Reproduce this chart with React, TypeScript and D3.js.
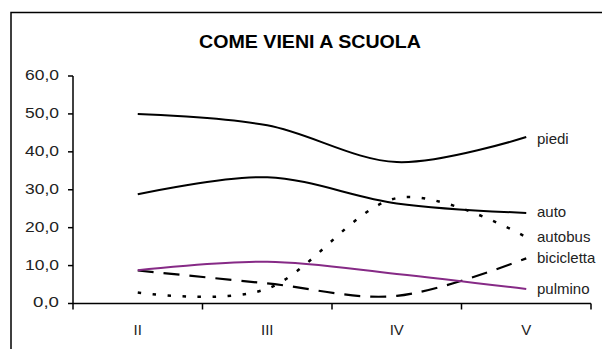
import React from "react";
import * as d3 from "d3";

const categories = ["II", "III", "IV", "V"];
const yTicks = [0, 10, 20, 30, 40, 50, 60];
const piedi = [50.0, 47.0, 37.3, 43.9];
const auto = [28.8, 33.3, 26.4, 23.9];
const autobus = [2.9, 3.9, 27.8, 17.5];
const bicicletta = [8.7, 5.3, 2.0, 11.9];
const pulmino = [8.8, 11.0, 7.8, 3.8];
const seriesNames = ["piedi", "auto", "autobus", "bicicletta", "pulmino"];
const title = "COME VIENI A SCUOLA";

const seriesData = [piedi, auto, autobus, bicicletta, pulmino];
const styles = [
  { color: "#000", width: 2, dash: null as string | null, labelY: 140 },
  { color: "#000", width: 2, dash: null, labelY: 213 },
  { color: "#000", width: 2.5, dash: "3.5,11.5", labelY: 238 },
  { color: "#000", width: 2.2, dash: "16,10", labelY: 259 },
  { color: "#862a86", width: 2, dash: null, labelY: 290 },
];

export default function App() {
  const W = 602, H = 349;
  const left = 73, right = 591, top = 76, bottom = 303.5;
  const x = d3.scaleBand<string>().domain(categories).range([left, right]);
  const y = d3.scaleLinear().domain([0, 60]).range([bottom, top]);
  const cx = (c: string) => (x(c) as number) + x.bandwidth() / 2;
  const line = d3
    .line<number>()
    .x((_, i) => cx(categories[i]))
    .y((d) => y(d))
    .curve(d3.curveCardinal.tension(0));
  const xTickPos = [...categories.map((c) => x(c) as number), right];
  const font = "'Liberation Sans', Arial, sans-serif";

  return (
    <svg
      width={W}
      height={H}
      style={{ position: "absolute", left: 0, top: 0, background: "#fff" }}
      fontFamily={font}
    >
      <rect x={0} y={0} width={W} height={H} fill="#fff" />
      <rect x={11} y={12.5} width={W} height={H} fill="none" stroke="#000" strokeWidth={1.5} />
      <text x={310} y={43} textAnchor="middle" dominantBaseline="middle" fontSize={19} fontWeight="bold" textLength={222} lengthAdjust="spacingAndGlyphs">
        {title}
      </text>
      {/* y axis */}
      <line x1={left} x2={left} y1={top} y2={bottom} stroke="#000" strokeWidth={1.5} />
      {yTicks.map((t) => (
        <g key={t}>
          <line x1={left - 5} x2={left} y1={y(t)} y2={y(t)} stroke="#000" strokeWidth={1.5} />
          <text x={59} y={y(t)} textAnchor="end" dominantBaseline="middle" fontSize={15} textLength={t >= 10 ? 34 : 26} lengthAdjust="spacingAndGlyphs" fill="#222">
            {d3.format(".1f")(t).replace(".", ",")}
          </text>
        </g>
      ))}
      {/* x axis */}
      <line x1={left} x2={right} y1={bottom} y2={bottom} stroke="#000" strokeWidth={1.5} />
      {xTickPos.map((p, i) => (
        <line key={i} x1={p} x2={p} y1={bottom} y2={bottom + 6} stroke="#000" strokeWidth={1.5} />
      ))}
      {categories.map((c) => (
        <text key={c} x={cx(c)} y={331} textAnchor="middle" dominantBaseline="middle" fontSize={15} fill="#222">
          {c}
        </text>
      ))}
      {seriesData.map((s, i) => (
        <path
          key={i}
          d={line(s) as string}
          fill="none"
          stroke={styles[i].color}
          strokeWidth={styles[i].width}
          strokeDasharray={styles[i].dash ?? undefined}
        />
      ))}
      {seriesNames.map((n, i) => (
        <text key={n} x={537} y={styles[i].labelY} dominantBaseline="middle" fontSize={15} fill="#222">
          {n}
        </text>
      ))}
    </svg>
  );
}
